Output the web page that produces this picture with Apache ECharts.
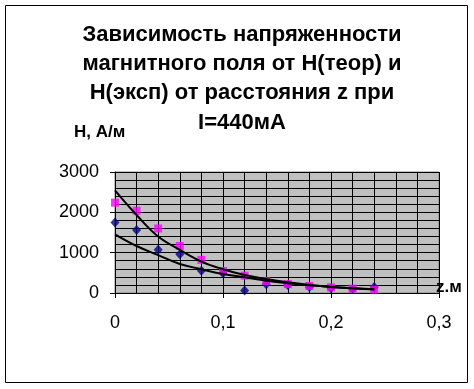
<!DOCTYPE html>
<html><head><meta charset="utf-8">
<script src="https://cdn.jsdelivr.net/npm/echarts@6/dist/echarts.min.js"></script>
<style>html,body{margin:0;padding:0;background:#fff}#c{width:474px;height:389px}</style>
</head><body><div id="c"></div>
<script>
const zValues = [0, 0.02, 0.04, 0.06, 0.08, 0.10, 0.12, 0.14, 0.16, 0.18, 0.20, 0.22, 0.24];
const hExp = [1750, 1560, 1070, 960, 550, 490, 60, 220, 200, 150, 120, 100, 150];
const hTheor = [2240, 2040, 1600, 1165, 820, 545, 430, 300, 220, 175, 140, 107, 85];
const trendTheor = [2545, 1934, 1400, 1070, 780, 590, 446, 347, 265, 200, 150, 115, 85];
const trendExp = [1455, 1165, 940, 720, 590, 470, 390, 305, 240, 190, 150, 120, 95];
const xTicks = [0, 0.1, 0.2, 0.3];
const yTicks = [0, 1000, 2000, 3000];
const titleText = 'Зависимость напряженности\nмагнитного поля от H(теор) и\nH(эксп) от расстояния z при\nI=440мА';

const pair = (xs, ys) => xs.map((x, i) => [x, ys[i]]);
const chart = echarts.init(document.getElementById('c'));
const font = 'Liberation Sans, Arial, sans-serif';
chart.setOption({
  animation: false,
  title: {
    text: titleText, left: 237, top: 15, textAlign: 'center',
    textStyle: {fontFamily: font, fontSize: 22, fontWeight: 'bold', color: '#000', lineHeight: 29.3}
  },
  graphic: [
    {type: 'rect', shape: {x: 5.5, y: 5.5, width: 462, height: 377}, style: {fill: 'none', stroke: '#000', lineWidth: 1}, z: -10},
    {type: 'text', left: 74, top: 124, style: {text: 'H, A/м', font: 'bold 17px ' + font, fill: '#000'}},
    {type: 'text', left: 436, top: 279, style: {text: 'z.м', font: 'bold 17px ' + font, fill: '#000'}}
  ],
  grid: {left: 115, top: 172, right: 35, bottom: 96, show: true, backgroundColor: '#c0c0c0', borderColor: '#808080', borderWidth: 1},
  xAxis: {
    type: 'value', min: xTicks[0], max: xTicks[xTicks.length - 1], interval: 0.1,
    axisLine: {show: true, lineStyle: {color: '#000', width: 1}},
    axisTick: {show: true, length: 5, lineStyle: {color: '#000'}},
    axisLabel: {margin: 21, fontFamily: font, fontSize: 18, color: '#000', formatter: v => String(+v.toFixed(1)).replace('.', ',')},
    splitLine: {show: true, lineStyle: {color: '#000', width: 1}},
    minorTick: {show: false, splitNumber: 5},
    minorSplitLine: {show: true, lineStyle: {color: '#000', width: 1}}
  },
  yAxis: {
    type: 'value', min: yTicks[0], max: yTicks[yTicks.length - 1], interval: 1000,
    axisLine: {show: true, lineStyle: {color: '#000', width: 1}},
    axisTick: {show: true, length: 5, lineStyle: {color: '#000'}},
    axisLabel: {margin: 16, fontFamily: font, fontSize: 18, color: '#000', formatter: v => String(v)},
    splitLine: {show: true, lineStyle: {color: '#000', width: 1}},
    minorTick: {show: false, splitNumber: 5},
    minorSplitLine: {show: true, lineStyle: {color: '#000', width: 1}}
  },
  series: [
    {type: 'scatter', data: pair(zValues, hExp), symbol: 'diamond', symbolSize: [9, 10], itemStyle: {color: '#000080'}, z: 2},
    {type: 'scatter', data: pair(zValues, hTheor), symbol: 'rect', symbolSize: 8, itemStyle: {color: '#ff00ff'}, z: 2},
    {type: 'line', data: pair(zValues, trendTheor), smooth: 0.4, showSymbol: false, lineStyle: {color: '#000', width: 2}, z: 3},
    {type: 'line', data: pair(zValues, trendExp), smooth: 0.4, showSymbol: false, lineStyle: {color: '#000', width: 2}, z: 3}
  ]
});
</script></body></html>
